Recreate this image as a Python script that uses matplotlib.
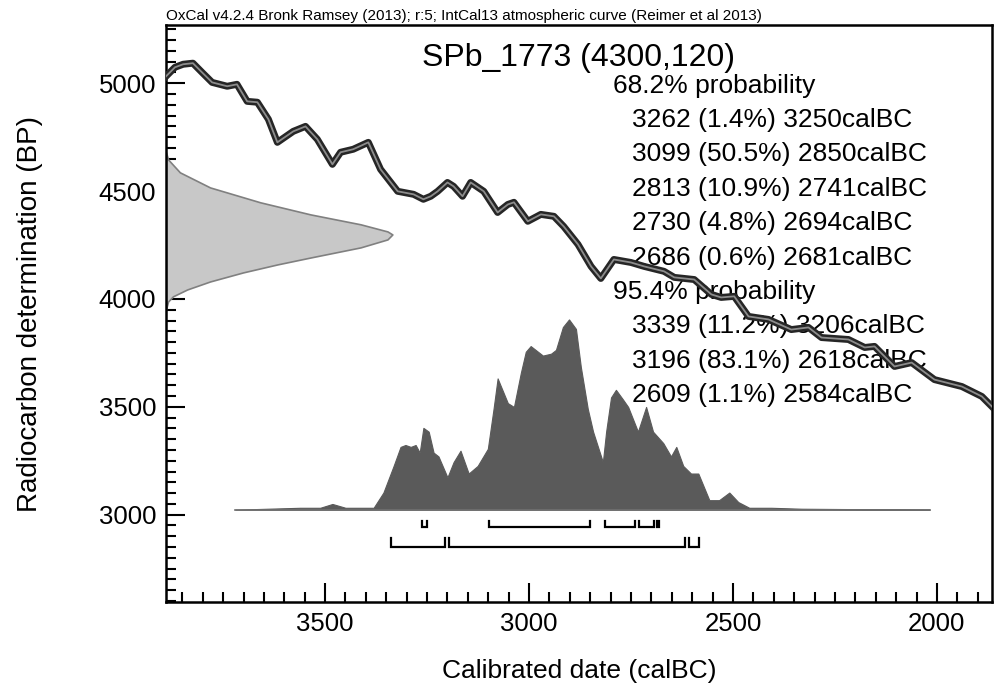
import numpy as np
import matplotlib
matplotlib.use("Agg")
import matplotlib.pyplot as plt
from matplotlib.ticker import MultipleLocator

plt.rcParams['font.family'] = ['Liberation Sans', 'DejaVu Sans']

# calibration curve (IntCal13)
curve_cal = [3890, 3868, 3848, 3824, 3802, 3777, 3740, 3716, 3691, 3666,
             3639, 3617, 3578, 3548, 3519, 3482, 3462, 3431, 3394, 3364,
             3322, 3283, 3259, 3241, 3224, 3200, 3185, 3163, 3143, 3111,
             3077, 3052, 3037, 3003, 2971, 2939, 2915, 2880, 2848, 2824,
             2792, 2750, 2718, 2669, 2644, 2595, 2553, 2529, 2497, 2462,
             2413, 2357, 2315, 2283, 2217, 2177, 2153, 2104, 2062, 2006,
             1939, 1890, 1853]
curve_bp = [5032, 5074, 5088, 5093, 5051, 5004, 4986, 4995, 4916, 4912,
            4833, 4726, 4777, 4800, 4740, 4624, 4680, 4694, 4726, 4601,
            4499, 4485, 4462, 4476, 4499, 4540, 4522, 4476, 4540, 4499,
            4401, 4438, 4448, 4360, 4392, 4383, 4336, 4253, 4151, 4095,
            4183, 4169, 4151, 4128, 4100, 4090, 4021, 4007, 4012, 3919,
            3905, 3858, 3868, 3821, 3812, 3775, 3780, 3687, 3705, 3626,
            3594, 3548, 3478]

# measured date distribution 4300 +/- 120 BP (height in calendar years)
meas_bp = [4680, 4647, 4587, 4517, 4448, 4392, 4346, 4313, 4299, 4276,
           4239, 4192, 4160, 4123, 4081, 4044, 4012, 3988, 3951]
meas_h = [0, 5, 34, 108, 231, 354, 477, 543, 555, 543,
          477, 354, 273, 189, 108, 52, 17, 5, 0]

# calibrated posterior (relative probability)
post_cal = [3720, 3561, 3512, 3482, 3450, 3413, 3381, 3357, 3332, 3315,
            3303, 3290, 3278, 3268, 3259, 3246, 3234, 3222, 3200, 3185,
            3168, 3148, 3126, 3101, 3087, 3077, 3052, 3037, 3020, 3008,
            2996, 2966, 2946, 2934, 2917, 2902, 2885, 2873, 2856, 2843,
            2831, 2819, 2811, 2799, 2787, 2770, 2757, 2733, 2713, 2696,
            2671, 2652, 2639, 2622, 2603, 2585, 2558, 2534, 2509, 2487,
            2460, 2406, 2332, 2018]
post_p = [0.0, 0.01, 0.01, 0.03, 0.01, 0.01, 0.01, 0.09, 0.23, 0.33,
          0.34, 0.33, 0.34, 0.30, 0.43, 0.41, 0.30, 0.28, 0.17, 0.25,
          0.31, 0.19, 0.23, 0.32, 0.53, 0.69, 0.56, 0.54, 0.72, 0.83,
          0.86, 0.81, 0.82, 0.84, 0.96, 1.00, 0.95, 0.75, 0.53, 0.41,
          0.33, 0.25, 0.41, 0.59, 0.63, 0.58, 0.54, 0.41, 0.54, 0.41,
          0.35, 0.28, 0.33, 0.23, 0.19, 0.19, 0.05, 0.05, 0.09, 0.04,
          0.01, 0.01, 0.005, 0.0]

ranges_68 = [(3262, 3250), (3099, 2850), (2813, 2741), (2730, 2694), (2686, 2681)]
pct_68 = [1.4, 50.5, 10.9, 4.8, 0.6]
ranges_95 = [(3339, 3206), (3196, 2618), (2609, 2584)]
pct_95 = [11.2, 83.1, 1.1]

fig = plt.figure(figsize=(9.97, 6.9), dpi=100)
ax = fig.add_axes([166/997, 1-602/690, 826/997, 577/690])
xl, xr = 3890, 1865
ax.set_xlim(xl, xr)
ax.set_ylim(2595, 5270)

# measured distribution on the y axis
ax.fill_betweenx(meas_bp, xl, xl - np.array(meas_h), color='#c8c8c8',
                 edgecolor='#808080', lw=1.2, zorder=2)

# posterior
base, scale = 3023, 882
ax.fill_between(post_cal, base, base + scale*np.array(post_p),
                color='#5a5a5a', lw=0.8, zorder=2)
ax.plot([post_cal[0], post_cal[-1]], [base, base], color='#707070', lw=1.2, zorder=2)

# range bars
def bars(rr, y, tick):
    for a, b in rr:
        ax.plot([a, a, b, b], [y+tick, y, y, y+tick], color='black', lw=1.6,
                solid_joinstyle='miter', zorder=3)

bars(ranges_68, 2944, 28)
bars(ranges_95, 2851, 40)

# text block
fs = 19
ax.text(0.5, 0.943, 'SPb_1773 (4300,120)', transform=ax.transAxes,
        ha='center', va='center', fontsize=23)
rows = ['68.2% probability']
rows += ['%d (%.1f%%) %dcalBC' % (a, p, b) for (a, b), p in zip(ranges_68, pct_68)]
rows += ['95.4% probability']
rows += ['%d (%.1f%%) %dcalBC' % (a, p, b) for (a, b), p in zip(ranges_95, pct_95)]
for i, r in enumerate(rows):
    x = 0.541 if 'probability' in r else 0.564
    ax.text(x, 0.895 - i*0.0596, r, transform=ax.transAxes,
            ha='left', va='center', fontsize=fs, zorder=4)

# calibration curve
ax.plot(curve_cal, curve_bp, color='#262626', lw=5, zorder=5,
        solid_joinstyle='round')
ax.plot(curve_cal, curve_bp, color='#8c8c8c', lw=1.3, zorder=6,
        solid_joinstyle='round')

ax.xaxis.set_major_locator(MultipleLocator(500))
ax.xaxis.set_minor_locator(MultipleLocator(50))
ax.yaxis.set_major_locator(MultipleLocator(500))
ax.yaxis.set_minor_locator(MultipleLocator(50))
ax.tick_params(which='both', direction='in', width=1.5, top=False, right=False,
               labelsize=18.5)
ax.tick_params(which='major', length=14, pad=7)
ax.tick_params(which='minor', length=7)
for s in ax.spines.values():
    s.set_linewidth(1.8)

ax.set_xlabel('Calibrated date (calBC)', fontsize=19, labelpad=17)
ax.set_ylabel('Radiocarbon determination (BP)', fontsize=20, labelpad=40)
ax.text(0.0, 1.004, 'OxCal v4.2.4 Bronk Ramsey (2013); r:5; IntCal13 atmospheric curve (Reimer et al 2013)',
        transform=ax.transAxes, ha='left', va='bottom', fontsize=11)

fig.savefig('out.png', dpi=100)
